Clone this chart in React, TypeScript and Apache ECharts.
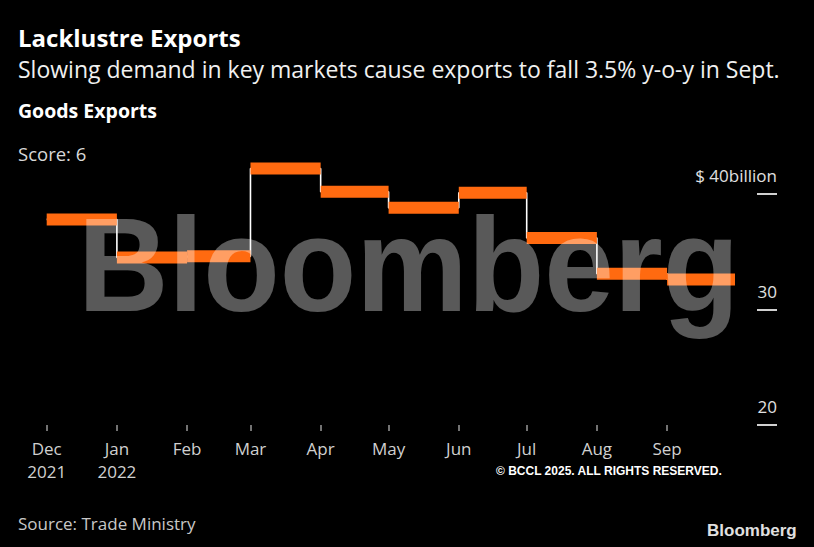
import React, { useEffect, useRef } from "react";
import * as echarts from "echarts";

// ---- data ----
const months = ["2021-12", "2022-01", "2022-02", "2022-03", "2022-04", "2022-05", "2022-06", "2022-07", "2022-08", "2022-09"];
const exportsBn = [37.8, 34.5, 34.6, 42.2, 40.2, 38.8, 40.1, 36.2, 33.1, 32.6];
const periodEnd = "2022-10";
const xTickLabels = ["Dec\n2021", "Jan\n2022", "Feb", "Mar", "Apr", "May", "Jun", "Jul", "Aug", "Sep"];
const yTickValues = [20, 30, 40];
const yTickLabels = ["20", "30", "$ 40billion"];

const ORANGE = "#ff6a10";
const FONT = "'Open Sans', 'Noto Sans', sans-serif";

const toTs = (s: string) => {
  const [y, m] = s.split("-").map(Number);
  return Date.UTC(y, m - 1, 1);
};

export default function App() {
  const ref = useRef<HTMLDivElement>(null);

  useEffect(() => {
    if (!ref.current) return;
    const chart = echarts.init(ref.current, undefined, { renderer: "svg" });
    const starts = months.map(toTs);
    const endTs = toTs(periodEnd);
    const ends = starts.map((s, i) => (i < starts.length - 1 ? starts[i + 1] : endTs));
    const barData = months.map((_, i) => [starts[i], ends[i], exportsBn[i]]);
    const stepData = starts.map((s, i) => [s, exportsBn[i]]);
    stepData.push([endTs, exportsBn[exportsBn.length - 1]]);

    const txt = (x: number, y: number, text: string, fill: string, font: string) => ({
      type: "text",
      x,
      y,
      style: { text, x: 0, y: 0, fill, font, align: "left", verticalAlign: "middle" },
    });

    const option: any = {
      animation: false,
      backgroundColor: "#000",
      grid: { left: 46.7, right: 79, top: 194, bottom: 122, containLabel: false },
      xAxis: {
        type: "value",
        min: starts[0],
        max: endTs,
        axisLine: { show: false },
        splitLine: { show: false },
        axisTick: {
          show: true,
          customValues: starts,
          length: 6,
          lineStyle: { color: "#9a9a9a", width: 1.5 },
        },
        axisLabel: {
          customValues: starts,
          margin: 12,
          color: "#d0d0d0",
          fontSize: 17,
          lineHeight: 23,
          fontFamily: FONT,
          formatter: (v: number) => {
            const i = starts.indexOf(v);
            return i >= 0 ? xTickLabels[i] : "";
          },
        },
      },
      yAxis: {
        type: "value",
        position: "right",
        offset: 42,
        min: 20,
        max: 40,
        interval: 10,
        axisLine: { show: false },
        splitLine: { show: false },
        axisTick: {
          show: true,
          inside: true,
          length: 20,
          lineStyle: { color: "#d0d0d0", width: 2 },
        },
        axisLabel: {
          inside: true,
          margin: 0,
          color: "#e0e0e0",
          fontSize: 17,
          fontFamily: FONT,
          verticalAlign: "bottom",
          padding: [0, 0, 10, 0],
          formatter: (v: number) => {
            const i = yTickValues.indexOf(v);
            return i >= 0 ? yTickLabels[i] : "";
          },
        },
      },
      series: [
        {
          type: "line",
          data: stepData,
          step: "end",
          symbol: "none",
          clip: false,
          z: 1,
          lineStyle: { color: "#ffffff", width: 1.6 },
        },
        {
          type: "custom",
          clip: false,
          z: 2,
          data: barData,
          encode: { x: [0, 1], y: 2 },
          renderItem: (params: any, api: any) => {
            const s = api.coord([api.value(0), api.value(2)]);
            const e = api.coord([api.value(1), api.value(2)]);
            return {
              type: "rect",
              shape: { x: s[0], y: s[1] - 6, width: e[0] - s[0], height: 12 },
              style: { fill: ORANGE },
            };
          },
        },
      ],
      graphic: [
        {
          type: "text",
          z: 100,
          x: 78,
          y: 265,
          scaleX: 0.935,
          silent: true,
          style: {
            text: "Bloomberg",
            x: 0,
            y: 0,
            fill: "rgba(255,255,255,0.35)",
            font: "bold 134px 'Liberation Sans', Arial, sans-serif",
            align: "left",
            verticalAlign: "middle",
          },
        },
        txt(18, 37, "Lacklustre Exports", "#ffffff", `bold 24px ${FONT}`),
        txt(18, 68.7, "Slowing demand in key markets cause exports to fall 3.5% y-o-y in Sept.", "#f0f0f0", `23px ${FONT}`),
        txt(18, 110, "Goods Exports", "#ffffff", `bold 19.5px ${FONT}`),
        txt(18, 153, "Score: 6", "#d8d8d8", `18.5px ${FONT}`),
        txt(18, 523, "Source: Trade Ministry", "#c8c8c8", `17px ${FONT}`),
        txt(496, 471, "© BCCL 2025. ALL RIGHTS RESERVED.", "#ffffff", "bold 12px 'Liberation Sans Narrow', 'Liberation Sans', Arial, sans-serif"),
        txt(707, 530, "Bloomberg", "#e0e0e0", "bold 17px 'Liberation Sans Narrow', 'Liberation Sans', Arial, sans-serif"),
      ],
    };
    chart.setOption(option);
    return () => chart.dispose();
  }, []);

  return (
    <div
      ref={ref}
      style={{ position: "fixed", left: 0, top: 0, width: 814, height: 547, background: "#000" }}
    />
  );
}
